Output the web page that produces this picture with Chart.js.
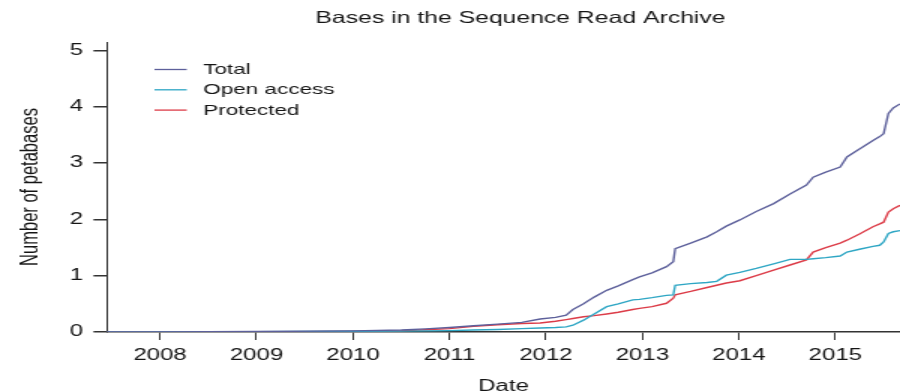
<!DOCTYPE html>
<html>
<head>
<meta charset="utf-8">
<script src="https://cdn.jsdelivr.net/npm/chart.js@4.4.1/dist/chart.umd.min.js"></script>
<style>
  html, body { margin: 0; padding: 0; background: #fff; }
  #sraChart { display: block; }
</style>
</head>
<body>
<!-- the reference is a horizontally stretched R plot, so the canvas is drawn narrow and stretched -->
<canvas id="sraChart" width="600" height="392" style="width:900px;height:392px"></canvas>
<script>
const chartTitle = "Bases in the Sequence Read Archive";
const seriesNames = ["Total", "Open access", "Protected"];

// decimal years
const dates = [
  2007.45, 2008, 2009, 2010, 2010.5, 2010.75, 2011, 2011.25, 2011.5, 2011.75,
  2011.94, 2012.1, 2012.21, 2012.28, 2012.39, 2012.5, 2012.63, 2012.75, 2012.9, 2012.97,
  2013.1, 2013.25, 2013.32, 2013.34, 2013.5, 2013.67, 2013.77, 2013.87, 2014.01, 2014.18,
  2014.36, 2014.53, 2014.7, 2014.77, 2014.9, 2015.05, 2015.12, 2015.25, 2015.39, 2015.46,
  2015.5, 2015.55, 2015.6, 2015.67
];

// petabases
const total = [
  0, 0.003, 0.008, 0.02, 0.035, 0.055, 0.08, 0.11, 0.14, 0.17,
  0.23, 0.26, 0.3, 0.4, 0.5, 0.62, 0.74, 0.82, 0.93, 0.98,
  1.05, 1.16, 1.25, 1.48, 1.58, 1.69, 1.78, 1.88, 1.99, 2.14,
  2.28, 2.45, 2.61, 2.75, 2.84, 2.93, 3.11, 3.25, 3.4, 3.47,
  3.52, 3.88, 3.98, 4.05
];
const openAccess = [
  0, 0.002, 0.005, 0.012, 0.015, 0.02, 0.025, 0.035, 0.045, 0.06,
  0.07, 0.08, 0.09, 0.12, 0.21, 0.32, 0.45, 0.5, 0.57, 0.58,
  0.61, 0.65, 0.66, 0.83, 0.86, 0.88, 0.9, 1.01, 1.06, 1.13,
  1.21, 1.29, 1.29, 1.3, 1.32, 1.35, 1.42, 1.47, 1.52, 1.54,
  1.6, 1.75, 1.78, 1.8
];
const protectedBases = [
  0, 0.001, 0.003, 0.008, 0.02, 0.04, 0.06, 0.1, 0.13, 0.15,
  0.16, 0.19, 0.22, 0.24, 0.27, 0.29, 0.32, 0.35, 0.4, 0.42,
  0.45, 0.51, 0.6, 0.66, 0.72, 0.79, 0.83, 0.87, 0.91, 1.0,
  1.1, 1.19, 1.28, 1.42, 1.5, 1.58, 1.63, 1.74, 1.87, 1.92,
  1.95, 2.13, 2.19, 2.25
];

const yearTicks = [2008, 2009, 2010, 2011, 2012, 2013, 2014, 2015];
const petabaseTicks = [0, 1, 2, 3, 4, 5];

const toPoints = (vals) => vals.map((v, i) => ({ x: dates[i], y: v }));
const font = "'Liberation Sans', Arial, Helvetica, sans-serif";
const ink = "#151515";

// title + legend drawn by hand, R style
const titleAndLegend = {
  id: "titleAndLegend",
  afterDraw(chart) {
    const ctx = chart.ctx;
    ctx.save();
    ctx.fillStyle = ink;
    ctx.textBaseline = "middle";
    ctx.textAlign = "center";
    ctx.font = "16.5px " + font;
    ctx.fillText(chartTitle, 347, 18.5);

    ctx.textAlign = "left";
    ctx.font = "15px " + font;
    chart.data.datasets.forEach((ds, i) => {
      const y = 69.5 + i * 20.3;
      ctx.strokeStyle = ds.borderColor;
      ctx.lineWidth = 1.3;
      ctx.beginPath();
      ctx.moveTo(103, y);
      ctx.lineTo(124.5, y);
      ctx.stroke();
      ctx.fillText(ds.label, 135.5, y + 0.5);
    });
    ctx.restore();
  }
};

new Chart(document.getElementById("sraChart"), {
  type: "line",
  data: {
    datasets: [
      { label: seriesNames[0], data: toPoints(total), borderColor: "#5d609b" },
      { label: seriesNames[1], data: toPoints(openAccess), borderColor: "#2ea6c4" },
      { label: seriesNames[2], data: toPoints(protectedBases), borderColor: "#dc3c48" }
    ]
  },
  options: {
    responsive: false,
    devicePixelRatio: 1,
    animation: false,
    datasets: {
      line: { borderWidth: 1.4, pointRadius: 0, tension: 0, fill: false }
    },
    layout: { padding: { top: 42, right: 0, left: 0, bottom: 0 } },
    plugins: {
      legend: { display: false },
      title: { display: false },
      tooltip: { enabled: false }
    },
    scales: {
      x: {
        type: "linear",
        min: 2007.45,
        max: 2015.67,
        afterBuildTicks: (scale) => { scale.ticks = yearTicks.map(v => ({ value: v })); },
        afterFit: (scale) => { scale.height = 60; },
        ticks: {
          color: ink,
          font: { family: font, size: 16 },
          padding: 6,
          maxRotation: 0,
          autoSkip: false,
          callback: (v) => String(v)
        },
        grid: { drawOnChartArea: false, drawTicks: true, tickLength: 8, color: "#333", lineWidth: 1 },
        border: { display: true, color: "#333", width: 1.6 },
        title: {
          display: true,
          text: "Date",
          color: ink,
          font: { family: font, size: 16, lineHeight: 1 },
          padding: { top: 0, bottom: -3 }
        }
      },
      y: {
        min: 0,
        max: 5.15,
        afterBuildTicks: (scale) => { scale.ticks = petabaseTicks.map(v => ({ value: v })); },
        afterFit: (scale) => { scale.width = 71.3; },
        ticks: {
          color: ink,
          font: { family: font, size: 16 },
          padding: 7,
          callback: (v) => String(v)
        },
        grid: { drawOnChartArea: false, drawTicks: true, tickLength: 9, color: "#333", lineWidth: 1.5 },
        border: { display: true, color: "#333", width: 1 },
        title: {
          display: true,
          text: "Number of petabases",
          color: ink,
          font: { family: font, size: 16.5, lineHeight: 1 },
          padding: { top: 12, bottom: 0 }
        }
      }
    }
  },
  plugins: [titleAndLegend]
});
</script>
</body>
</html>
